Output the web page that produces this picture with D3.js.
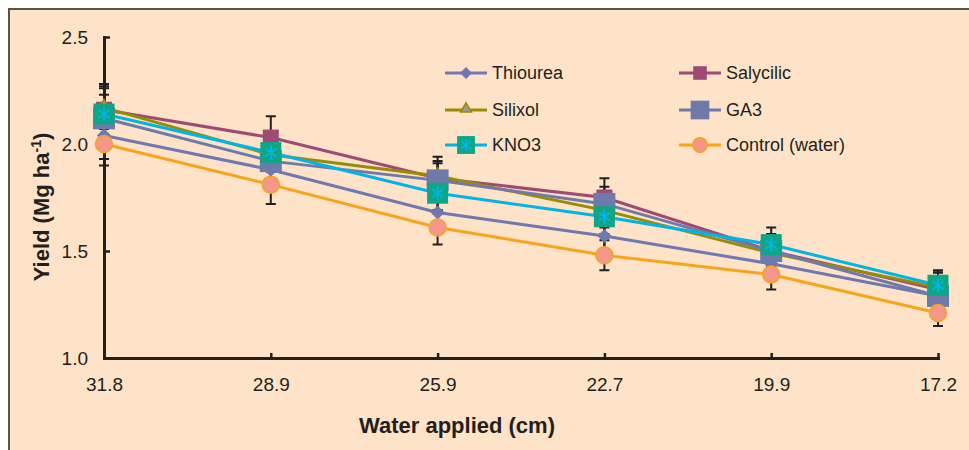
<!DOCTYPE html>
<html>
<head>
<meta charset="utf-8">
<script src="https://cdn.jsdelivr.net/npm/d3@7"></script>
<style>
  html, body { margin: 0; padding: 0; background: #ffffff; }
  svg { display: block; font-family: "Liberation Sans", Arial, sans-serif; }
</style>
</head>
<body>
<svg id="chart"></svg>
<script>
// data
const waterApplied = ["31.8", "28.9", "25.9", "22.7", "19.9", "17.2"];
const yTicks = [1.0, 1.5, 2.0, 2.5];

const thiourea = [2.04, 1.88, 1.68, 1.57, 1.44, 1.29];
const salycilic = [2.16, 2.03, 1.84, 1.75, 1.50, 1.32];
const silixol = [2.17, 1.95, 1.85, 1.69, 1.49, 1.33];
const ga3 = [2.12, 1.92, 1.83, 1.72, 1.50, 1.29];
const kno3 = [2.14, 1.96, 1.77, 1.66, 1.53, 1.34];
const control = [2.00, 1.81, 1.61, 1.48, 1.39, 1.21];

const thioureaErr = [0.14, 0.08, 0.08, 0.07, 0.06, 0.06];
const salycilicErr = [0.12, 0.10, 0.08, 0.09, 0.08, 0.08];
const silixolErr = [0.10, 0.08, 0.09, 0.08, 0.07, 0.07];
const ga3Err = [0.11, 0.08, 0.08, 0.08, 0.07, 0.07];
const kno3Err = [0.12, 0.08, 0.08, 0.08, 0.08, 0.07];
const controlErr = [0.07, 0.09, 0.08, 0.07, 0.07, 0.06];

// constants
const width = 969;
const height = 450;

const series = [
  { name: "Thiourea", values: thiourea, err: thioureaErr, line: "#7078b0", marker: "diamond", fill: "#7078b0", stroke: "none" },
  { name: "Salycilic", values: salycilic, err: salycilicErr, line: "#9e4a75", marker: "square", size: 16, fill: "#9e4a75", stroke: "none" },
  { name: "Silixol", values: silixol, err: silixolErr, line: "#9a8c00", marker: "triangle", fill: "#9a9a9a", stroke: "#9a8c00" },
  { name: "GA3", values: ga3, err: ga3Err, line: "#6f7aab", marker: "square", size: 22, fill: "#6f7aab", stroke: "none" },
  { name: "KNO3", values: kno3, err: kno3Err, line: "#00b4e6", marker: "star", size: 21, fill: "#10a584", stroke: "none" },
  { name: "Control (water)", values: control, err: controlErr, line: "#f8a41b", marker: "circle", fill: "#f4978b", stroke: "#f8a41b" }
];

const svg = d3.select('#chart')
  .attr('width', width)
  .attr('height', height);

// background panel + frame
svg.append('rect')
  .attr('x', 8).attr('y', 8)
  .attr('width', width).attr('height', height)
  .attr('fill', '#fee3c8');
svg.append('path')
  .attr('d', 'M9,' + height + 'V9H' + width)
  .attr('fill', 'none')
  .attr('stroke', '#5b524a')
  .attr('stroke-width', 2);

// scales
const x = d3.scalePoint()
  .domain(waterApplied)
  .range([104, 938]);

const y = d3.scaleLinear()
  .domain([1.0, 2.5])
  .range([358, 37]);

const axisColor = '#231f20';

// axes
const yAxis = svg.append('g')
  .attr('transform', 'translate(104,0)')
  .call(d3.axisLeft(y).tickValues(yTicks).tickFormat(d3.format('.1f'))
    .tickSizeInner(-6).tickSizeOuter(0).tickPadding(16));

const xAxis = svg.append('g')
  .attr('transform', 'translate(0,358)')
  .call(d3.axisBottom(x).tickSizeInner(-5).tickSizeOuter(0).tickPadding(20));

[yAxis, xAxis].forEach(g => {
  g.attr('font-family', null);
  g.select('.domain').attr('stroke', axisColor).attr('stroke-width', 3).attr('stroke-linecap', 'square');
  g.selectAll('.tick line').attr('stroke', axisColor).attr('stroke-width', 2.5);
  g.selectAll('.tick text').attr('fill', axisColor).style('font-size', '19px');
});
yAxis.selectAll('.tick text').attr('dy', '0.35em');

// axis titles
svg.append('text')
  .attr('transform', 'translate(49,207) rotate(-90)')
  .attr('text-anchor', 'middle')
  .style('font-size', '22px')
  .style('font-weight', 'bold')
  .attr('fill', axisColor)
  .html('Yield (Mg ha<tspan baseline-shift="super" font-size="14px">-1</tspan>)');

svg.append('text')
  .attr('x', 457)
  .attr('y', 433)
  .attr('text-anchor', 'middle')
  .style('font-size', '22px')
  .style('font-weight', 'bold')
  .attr('fill', axisColor)
  .text('Water applied (cm)');

// marker drawing helper
function drawMarker(g, s, k) {
  if (s.marker === 'diamond') {
    g.append('path')
      .attr('d', d3.symbol(d3.symbolSquare, 100 * k * k)())
      .attr('transform', 'rotate(45)')
      .attr('fill', s.fill);
  } else if (s.marker === 'square') {
    g.append('path')
      .attr('d', d3.symbol(d3.symbolSquare, s.size * s.size * k * k)())
      .attr('fill', s.fill);
  } else if (s.marker === 'triangle') {
    g.append('path')
      .attr('d', d3.symbol(d3.symbolTriangle, 70 * k * k)())
      .attr('transform', 'translate(0,-1)')
      .attr('fill', s.fill)
      .attr('stroke', s.stroke)
      .attr('stroke-width', 1.5);
  } else if (s.marker === 'star') {
    const h = s.size * k / 2;
    g.append('rect')
      .attr('x', -h).attr('y', -h)
      .attr('width', 2 * h).attr('height', 2 * h)
      .attr('fill', s.fill);
    const a = 7 * k;
    g.append('path')
      .attr('d', 'M0,' + (-a) + 'V' + a + 'M' + (-a * 0.8) + ',' + (-a * 0.6) + 'L' + (a * 0.8) + ',' + (a * 0.6)
        + 'M' + (-a * 0.8) + ',' + (a * 0.6) + 'L' + (a * 0.8) + ',' + (-a * 0.6))
      .attr('stroke', s.line)
      .attr('stroke-width', 1.8)
      .attr('fill', 'none');
  } else if (s.marker === 'circle') {
    g.append('circle')
      .attr('r', 8.5 * k)
      .attr('fill', s.fill)
      .attr('stroke', s.stroke)
      .attr('stroke-width', 1.5);
  }
}

// error bars
series.forEach(s => {
  const eb = svg.append('g').attr('class', 'errorbars');
  s.values.forEach((v, i) => {
    const cx = x(waterApplied[i]);
    const lo = y(v - s.err[i]);
    const hi = y(v + s.err[i]);
    eb.append('path')
      .attr('d', 'M' + cx + ',' + lo + 'V' + hi + 'M' + (cx - 5) + ',' + hi + 'H' + (cx + 5) + 'M' + (cx - 5) + ',' + lo + 'H' + (cx + 5))
      .attr('stroke', axisColor)
      .attr('stroke-width', 2)
      .attr('fill', 'none');
  });
});

// lines
const line = d3.line()
  .x((d, i) => x(waterApplied[i]))
  .y(d => y(d));

series.forEach(s => {
  svg.append('path')
    .datum(s.values)
    .attr('d', line)
    .attr('fill', 'none')
    .attr('stroke', s.line)
    .attr('stroke-width', 3);
});

// markers
series.forEach(s => {
  s.values.forEach((v, i) => {
    const g = svg.append('g')
      .attr('transform', 'translate(' + x(waterApplied[i]) + ',' + y(v) + ')');
    drawMarker(g, s, 1);
  });
});

// legend
const legendPos = [
  [445, 73], [679, 73],
  [445, 110], [679, 110],
  [445, 145], [679, 145]
];

series.forEach((s, i) => {
  const lg = svg.append('g')
    .attr('transform', 'translate(' + legendPos[i][0] + ',' + legendPos[i][1] + ')');
  lg.append('line')
    .attr('x1', 0).attr('x2', 42)
    .attr('stroke', s.line)
    .attr('stroke-width', 3);
  drawMarker(lg.append('g').attr('transform', 'translate(21,0)'), s, 0.85);
  lg.append('text')
    .attr('x', 47)
    .attr('dy', '0.35em')
    .style('font-size', '18px')
    .attr('fill', axisColor)
    .text(s.name);
});
</script>
</body>
</html>
